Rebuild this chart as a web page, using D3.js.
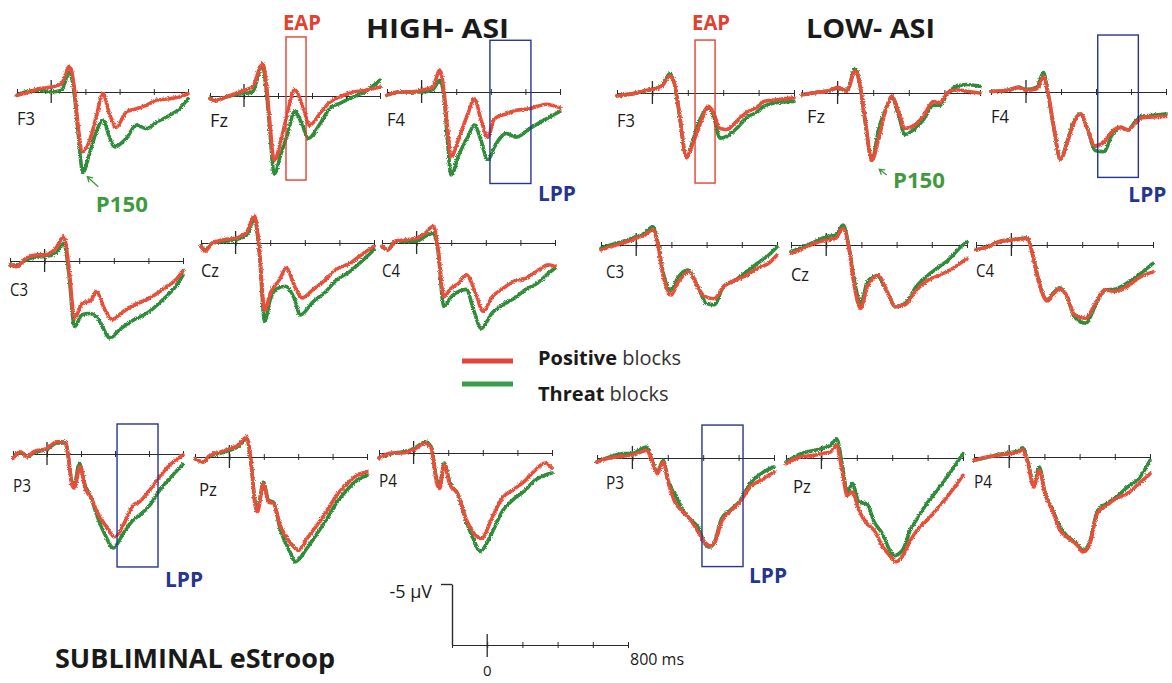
<!DOCTYPE html>
<html>
<head>
<meta charset="utf-8">
<script src="https://cdn.jsdelivr.net/npm/d3@7"></script>
<style>
  html, body { margin: 0; padding: 0; background: #fff; }
  svg { display: block; }
  text { font-family: "Open Sans", "Noto Sans", sans-serif; }
</style>
</head>
<body>
<svg id="chart" width="1172" height="683"></svg>
<script>
// ---------- ERP waveforms: [latency ms, amplitude µV] (negative plotted up) ----------
const X_TICKS = [-200, 0, 200, 400, 600, 800];

// HIGH-ASI, positive (red) and threat (green) blocks
const hiF3Pos = [[-200,0.27],[-130,0],[-70,-0.27],[0,-0.4],[60,-0.68],[107,-2.1],[137,-0.14],[156,2.6],[185,4.9],[224,4.0],[263,2.05],[302,0.14],[341,1.8],[380,2.9],[439,1.64],[498,1.37],[556,1.1],[615,0.68],[693,0.55],[751,0.4],[800,0.14]];
const hiF3Thr = [[-200,0.27],[-130,-0.08],[-70,-0.14],[0,0],[60,-0.14],[107,-1.64],[137,0.4],[156,3.1],[185,6.6],[224,5.05],[263,3.3],[302,2.3],[341,3.7],[371,4.5],[439,3.8],[498,2.7],[556,3.0],[615,2.5],[693,1.9],[751,1.37],[800,0.55]];
const hiFzPos = [[-200,0.2],[-168,0.4],[-109,0.08],[-50,-0.2],[0,-0.46],[50,-0.74],[109,-2.65],[129,-1.3],[149,1.7],[178,5.3],[218,3.6],[257,1.3],[297,-0.5],[347,0.9],[386,2.4],[446,1.45],[505,0.5],[564,0.08],[644,-0.33],[723,-0.5],[800,-0.74]];
const hiFzThr = [[-200,0.2],[-168,0.4],[-109,0.1],[-50,-0.1],[0,-0.2],[50,-0.33],[109,-2.5],[129,-0.8],[149,2.3],[178,6.4],[218,4.7],[257,3.1],[297,1.3],[347,2.5],[376,3.5],[446,2.3],[505,1.0],[564,0.6],[644,0.08],[723,-0.46],[800,-1.3]];
const hiF4Pos = [[-200,0.27],[-130,0],[-72,0],[0,-0.14],[64,-0.4],[106,-1.8],[131,0.14],[151,3.1],[170,5.3],[218,3.7],[267,1.8],[305,0.55],[344,2.3],[383,3.7],[421,2.2],[489,1.8],[547,1.5],[624,1.37],[721,1.0],[800,1.3]];
const hiF4Thr = [[-200,0.27],[-130,0],[-72,0],[0,0],[64,-0.2],[106,-0.95],[131,0.6],[151,4.2],[170,6.8],[218,5.05],[267,3.7],[305,2.7],[344,4.0],[383,5.6],[421,4.5],[489,3.4],[547,3.7],[624,3.0],[721,2.2],[800,1.6]];
const hiC3Pos = [[-200,0.33],[-162,0.46],[-108,-0.22],[-43,-0.5],[0,-0.5],[65,-1.04],[112,-2.0],[140,0.46],[173,4.7],[216,3.5],[270,3.2],[298,2.5],[346,3.9],[389,4.8],[454,4.15],[519,3.6],[605,3.06],[692,2.24],[757,1.56],[800,0.8]];
const hiC3Thr = [[-200,0.33],[-162,0.33],[-108,-0.08],[-43,-0.36],[0,-0.36],[65,-0.63],[112,-1.45],[140,1.0],[173,5.4],[216,4.4],[259,4.3],[303,4.6],[378,6.3],[432,5.65],[497,4.97],[605,4.15],[692,3.06],[757,2.1],[800,1.15]];
const hiCzPos = [[-200,0.27],[-177,0.68],[-134,0],[-69,-0.27],[0,-0.4],[60,-0.8],[110,-2.2],[136,0.27],[168,5.5],[201,4.1],[254,3.0],[293,2.05],[341,3.55],[384,4.5],[449,3.8],[513,3.1],[578,2.2],[664,1.64],[729,0.96],[800,0.27]];
const hiCzThr = [[-200,0.27],[-177,0.55],[-134,0],[-69,-0.14],[0,-0.27],[60,-0.6],[110,-1.9],[136,0.55],[168,6.4],[201,4.6],[233,3.8],[287,3.55],[341,4.6],[373,5.9],[449,4.8],[513,4.1],[578,3.1],[664,2.3],[729,1.5],[800,0.55]];
const hiC4Pos = [[-200,0.27],[-166,0.55],[-123,-0.14],[-58,-0.27],[0,-0.4],[50,-0.8],[97,-1.37],[125,0.55],[157,4.4],[200,3.7],[244,3.3],[287,2.6],[341,4.1],[384,5.6],[438,4.4],[502,3.7],[567,3.1],[632,2.9],[697,2.3],[761,1.78],[800,1.9]];
const hiC4Thr = [[-200,0.27],[-166,0.55],[-123,-0.14],[-58,-0.14],[0,-0.14],[50,-0.55],[97,-0.8],[125,0.8],[157,5.2],[200,4.4],[244,3.96],[287,3.8],[330,5.5],[373,7.0],[438,5.7],[502,5.05],[567,4.5],[632,3.8],[697,3.3],[761,2.5],[800,2.05]];
const hiP3Pos = [[-200,0.36],[-156,-0.19],[-117,0.22],[-78,-0.19],[0,-0.46],[59,-1.0],[107,-1.0],[127,0.36],[146,2.5],[160,2.8],[195,1.04],[224,2.8],[254,3.4],[293,4.7],[341,5.8],[400,6.8],[449,5.8],[507,4.2],[546,3.9],[605,2.95],[663,1.86],[722,0.9],[800,0.08]];
const hiP3Thr = [[-200,0.36],[-156,-0.1],[-117,0.22],[-78,-0.1],[0,-0.4],[59,-0.9],[107,-0.9],[127,0.4],[146,2.3],[160,2.5],[190,0.77],[224,2.55],[254,3.4],[293,5.0],[341,6.6],[390,7.7],[449,6.5],[507,5.4],[546,5.0],[605,4.2],[663,2.95],[722,2.0],[800,0.85]];
const hiPzPos = [[-200,0.14],[-151,0.4],[-113,-0.14],[-54,-0.4],[0,-0.68],[52,-0.96],[101,-1.64],[124,0.14],[150,4.0],[163,4.5],[198,2.2],[227,3.7],[256,3.8],[295,5.6],[353,7.0],[402,7.65],[450,6.7],[509,5.6],[567,4.4],[625,3.1],[684,2.2],[742,1.5],[800,1.2]];
const hiPzThr = [[-200,0.14],[-151,0.4],[-113,-0.1],[-54,-0.3],[0,-0.55],[52,-0.85],[101,-1.5],[124,0.3],[150,3.7],[163,4.3],[198,2.05],[227,3.55],[256,3.7],[295,5.9],[353,7.8],[382,8.6],[450,7.5],[509,6.3],[567,5.05],[625,3.7],[684,2.7],[742,1.9],[800,1.5]];
const hiP4Pos = [[-200,0.4],[-125,0],[-61,0],[0,-0.27],[69,-0.8],[102,-0.4],[134,2.5],[151,2.9],[177,0.96],[210,2.6],[253,3.3],[307,5.5],[350,6.6],[393,7.0],[448,5.5],[512,3.7],[577,3.0],[642,2.3],[696,1.5],[761,0.82],[800,1.23]];
const hiP4Thr = [[-200,0.4],[-125,0.05],[-61,-0.1],[0,-0.35],[69,-0.9],[102,-0.5],[134,2.2],[151,2.6],[177,0.82],[210,2.46],[253,3.3],[307,5.7],[350,7.2],[383,8.06],[448,6.7],[512,4.8],[577,3.8],[642,3.1],[696,2.3],[761,1.8],[800,1.64]];

// LOW-ASI, positive (red) and threat (green) blocks
const loF3Pos = [[-200,0.22],[-107,0.05],[-32,-0.22],[0,-0.27],[53,-0.55],[100,-1.42],[128,-0.55],[147,1.1],[194,5.3],[222,4.4],[269,2.6],[316,1.1],[344,1.6],[382,2.9],[420,3.0],[476,2.3],[542,1.5],[589,1.2],[627,0.7],[702,0.55],[800,0.4]];
const loF3Thr = [[-200,0.22],[-107,0.05],[-32,-0.2],[0,-0.3],[53,-0.6],[100,-1.6],[128,-0.5],[147,1.2],[194,5.3],[222,4.2],[269,2.2],[316,1.2],[344,1.8],[382,3.7],[420,3.55],[476,2.9],[542,1.9],[589,1.6],[627,1.1],[702,0.8],[800,0.7]];
const loFzPos = [[-200,0.14],[-116,-0.05],[-41,-0.2],[0,-0.46],[52,-0.14],[99,-1.78],[127,-0.55],[155,2.2],[193,5.5],[230,3.8],[267,1.6],[305,0.27],[342,1.5],[379,2.9],[435,2.6],[482,1.9],[538,0.7],[576,0.8],[613,0],[669,-0.27],[725,-0.14],[800,0]];
const loFzThr = [[-200,0.14],[-116,-0.05],[-41,-0.2],[0,-0.4],[52,-0.2],[99,-2.0],[127,-0.5],[155,2.4],[193,5.5],[230,3.0],[267,1.4],[305,0.4],[342,1.8],[379,3.4],[435,2.9],[482,2.2],[538,1.0],[576,1.0],[613,0.14],[669,-0.55],[725,-0.7],[800,-0.55]];
const loF4Pos = [[-200,-0.05],[-104,-0.14],[-42,-0.36],[0,-0.14],[62,-0.27],[100,-1.23],[125,0],[156,2.6],[197,5.5],[239,4.0],[281,2.3],[312,1.8],[353,3.1],[395,4.4],[447,4.1],[488,3.3],[540,2.9],[582,3.1],[623,2.6],[665,2.1],[727,2.05],[800,2.0]];
const loF4Thr = [[-200,-0.05],[-104,-0.14],[-42,-0.4],[0,-0.2],[62,-0.4],[100,-1.6],[125,0.1],[156,2.7],[197,5.5],[239,3.9],[281,2.2],[312,1.8],[353,3.1],[395,4.8],[447,4.9],[488,3.6],[540,2.9],[582,3.1],[623,2.45],[665,1.97],[727,1.9],[800,1.8]];
const loC3Pos = [[-200,0.4],[-145,0.14],[-81,-0.14],[0,-0.55],[47,-0.8],[94,-1.23],[122,-0.14],[154,2.6],[197,4.1],[240,3.0],[304,2.2],[347,3.4],[389,4.2],[443,4.4],[496,3.4],[560,2.9],[625,2.5],[689,1.9],[753,1.5],[800,0.82]];
const loC3Thr = [[-200,0.27],[-145,0],[-81,-0.27],[0,-0.68],[47,-0.96],[94,-1.5],[122,-0.27],[154,2.3],[197,3.7],[240,2.6],[293,2.05],[347,3.3],[400,4.8],[443,4.9],[496,3.4],[560,2.9],[625,2.2],[689,1.5],[753,0.82],[800,0.14]];
const loCzPos = [[-200,0.68],[-128,0.27],[-64,-0.14],[0,-0.4],[53,-0.55],[96,-1.37],[124,-0.14],[160,3.4],[196,5.2],[235,3.4],[299,2.5],[341,3.7],[395,5.05],[448,4.9],[512,3.7],[576,2.9],[640,2.5],[704,2.05],[800,1.1]];
const loCzThr = [[-200,0.55],[-128,0.14],[-64,-0.27],[0,-0.68],[53,-0.8],[96,-1.64],[124,-0.27],[160,2.9],[196,4.8],[235,3.0],[288,2.5],[341,3.7],[395,5.05],[448,4.8],[512,3.4],[576,2.5],[640,1.8],[704,1.1],[747,0.4],[800,-0.27]];
const loC4Pos = [[-200,0.4],[-134,0.14],[-70,-0.27],[0,-0.4],[47,-0.46],[90,-0.55],[122,0.96],[154,3.0],[203,4.6],[239,4.0],[271,3.6],[314,4.2],[356,5.7],[420,6.0],[474,4.8],[527,3.7],[591,3.8],[655,3.4],[719,2.7],[800,2.2]];
const loC4Thr = [[-200,0.4],[-134,0.14],[-70,-0.27],[0,-0.45],[47,-0.5],[90,-0.6],[122,0.9],[154,2.9],[203,4.5],[239,3.9],[271,3.5],[314,4.2],[356,5.9],[420,6.4],[474,5.0],[527,3.7],[591,3.6],[655,3.1],[719,2.46],[800,1.5]];
const loP3Pos = [[-200,0.33],[-128,0],[-53,-0.16],[0,-0.22],[51,-0.5],[83,-0.63],[108,0.19],[140,1.28],[174,0.33],[202,1.97],[240,3.6],[277,4.3],[325,5.0],[372,6.07],[409,6.9],[438,7.2],[466,6.9],[504,5.2],[551,4.4],[608,3.6],[664,2.4],[740,1.7],[800,1.15]];
const loP3Thr = [[-200,0.33],[-128,-0.08],[-53,-0.36],[0,-0.36],[51,-0.77],[83,-0.9],[108,0.05],[140,1.15],[174,0.19],[202,1.84],[240,2.9],[277,4.1],[325,5.0],[372,5.7],[409,7.0],[438,7.3],[466,6.8],[504,4.97],[551,4.3],[608,3.5],[664,2.1],[740,1.15],[800,0.74]];
const loPzPos = [[-200,0.46],[-116,-0.08],[-41,-0.22],[0,-0.36],[53,-0.5],[86,-1.04],[118,1.15],[146,3.06],[175,2.8],[212,4.3],[259,5.4],[297,5.9],[344,7.2],[391,8.1],[419,8.5],[456,8.1],[503,6.75],[541,5.9],[597,5.1],[654,4.15],[710,3.2],[800,1.42]];
const loPzThr = [[-200,0.33],[-116,-0.36],[-41,-0.63],[0,-0.77],[53,-1.04],[86,-1.58],[118,0.6],[146,2.8],[175,2.1],[212,3.6],[259,3.8],[297,5.2],[344,6.2],[391,7.7],[409,8.0],[456,7.6],[503,5.9],[541,4.97],[597,3.7],[654,2.65],[710,1.56],[800,-0.36]];
const loP4Pos = [[-200,0.27],[-128,0],[-64,-0.14],[0,-0.27],[53,-0.4],[75,-0.6],[107,0.55],[139,2.46],[171,1.1],[203,3.0],[245,4.4],[288,6.0],[331,6.6],[384,7.2],[420,7.8],[459,7.1],[501,4.6],[555,3.96],[608,3.4],[672,3.0],[736,2.2],[800,1.37]];
const loP4Thr = [[-200,0.27],[-128,0.05],[-64,-0.2],[0,-0.35],[53,-0.5],[75,-0.75],[107,0.4],[139,2.3],[171,0.82],[203,2.9],[245,4.25],[288,5.7],[331,6.5],[384,7.1],[420,7.65],[459,6.9],[501,4.4],[555,3.8],[608,3.3],[672,2.46],[736,1.78],[800,0.27]];

// Electrode sites per group
const panels = [
  { id: "hi-F3", site: "F3", pos: hiF3Pos, thr: hiF3Thr },
  { id: "hi-Fz", site: "Fz", pos: hiFzPos, thr: hiFzThr },
  { id: "hi-F4", site: "F4", pos: hiF4Pos, thr: hiF4Thr },
  { id: "hi-C3", site: "C3", pos: hiC3Pos, thr: hiC3Thr },
  { id: "hi-Cz", site: "Cz", pos: hiCzPos, thr: hiCzThr },
  { id: "hi-C4", site: "C4", pos: hiC4Pos, thr: hiC4Thr },
  { id: "hi-P3", site: "P3", pos: hiP3Pos, thr: hiP3Thr },
  { id: "hi-Pz", site: "Pz", pos: hiPzPos, thr: hiPzThr },
  { id: "hi-P4", site: "P4", pos: hiP4Pos, thr: hiP4Thr },
  { id: "lo-F3", site: "F3", pos: loF3Pos, thr: loF3Thr },
  { id: "lo-Fz", site: "Fz", pos: loFzPos, thr: loFzThr },
  { id: "lo-F4", site: "F4", pos: loF4Pos, thr: loF4Thr },
  { id: "lo-C3", site: "C3", pos: loC3Pos, thr: loC3Thr },
  { id: "lo-Cz", site: "Cz", pos: loCzPos, thr: loCzThr },
  { id: "lo-C4", site: "C4", pos: loC4Pos, thr: loC4Thr },
  { id: "lo-P3", site: "P3", pos: loP3Pos, thr: loP3Thr },
  { id: "lo-Pz", site: "Pz", pos: loPzPos, thr: loPzThr },
  { id: "lo-P4", site: "P4", pos: loP4Pos, thr: loP4Thr }
];

// Component windows [ms from, ms to], [µV from, µV to]
const eapWindows = [
  { panel: "hi-Fz", ms: [247, 365], uv: [-4.84, 6.89] },
  { panel: "lo-F3", ms: [241, 354], uv: [-4.34, 7.38] }
];
const lppWindows = [
  { panel: "hi-F4", ms: [395, 632], uv: [-4.24, 7.5] },
  { panel: "lo-F4", ms: [410, 642], uv: [-4.67, 7.0] },
  { panel: "hi-P3", ms: [412, 653], uv: [-2.46, 9.26] },
  { panel: "lo-P3", ms: [393, 625], uv: [-2.7, 8.9] }
];

// ---------- layout (pixels) ----------
const W = 1172, H = 683;
const UV_PX = 12.2;               // pixels per µV
const frames = {
  "hi-F3": { x0: 17,  x1: 188,  y: 92,  ldx: 0,  ldy: 33 },
  "hi-Fz": { x0: 210, x1: 380,  y: 96,  ldx: 0,  ldy: 31 },
  "hi-F4": { x0: 387, x1: 560,  y: 92,  ldx: 0,  ldy: 34 },
  "hi-C3": { x0: 10,  x1: 183,  y: 261, ldx: 0,  ldy: 35 },
  "hi-Cz": { x0: 201, x1: 374,  y: 243, ldx: 0,  ldy: 34 },
  "hi-C4": { x0: 382, x1: 555,  y: 243, ldx: 0,  ldy: 34 },
  "hi-P3": { x0: 13,  x1: 183,  y: 454, ldx: 0,  ldy: 38 },
  "hi-Pz": { x0: 195, x1: 367,  y: 457, ldx: 4,  ldy: 39 },
  "hi-P4": { x0: 379, x1: 552,  y: 453, ldx: 0,  ldy: 34 },
  "lo-F3": { x0: 617, x1: 794,  y: 93,  ldx: 0,  ldy: 34 },
  "lo-Fz": { x0: 802, x1: 980,  y: 93,  ldx: 5,  ldy: 30 },
  "lo-F4": { x0: 991, x1: 1166, y: 92,  ldx: 0,  ldy: 31 },
  "lo-C3": { x0: 601, x1: 777,  y: 245, ldx: 5,  ldy: 33 },
  "lo-Cz": { x0: 791, x1: 967,  y: 245, ldx: 0,  ldy: 36 },
  "lo-C4": { x0: 976, x1: 1153, y: 245, ldx: 0,  ldy: 32 },
  "lo-P3": { x0: 597, x1: 774,  y: 458, ldx: 9,  ldy: 31 },
  "lo-Pz": { x0: 786, x1: 963,  y: 458, ldx: 7,  ldy: 35 },
  "lo-P4": { x0: 974, x1: 1150, y: 457, ldx: 0,  ldy: 31 }
};

const COLORS = {
  pos: "#e8503a", thr: "#2f8c3b",
  legendPos: "#e0453b", legendThr: "#3d9c4b",
  eap: "#e2412f", lpp: "#26358e", p150: "#3f9a3f",
  axis: "#2a2a2a", text: "#1a1a1a"
};

const svg = d3.select("#chart");
svg.append("rect").attr("width", W).attr("height", H).attr("fill", "#fff");

// fine jitter so the averaged traces read like recorded signals
const defs = svg.append("defs");
const flt = defs.append("filter").attr("id", "rough")
  .attr("x", "-3%").attr("y", "-6%").attr("width", "106%").attr("height", "112%");
flt.append("feTurbulence").attr("type", "fractalNoise").attr("baseFrequency", 1.3)
  .attr("numOctaves", 2).attr("seed", 7).attr("result", "n");
flt.append("feDisplacementMap").attr("in", "SourceGraphic").attr("in2", "n")
  .attr("scale", 3.2).attr("xChannelSelector", "R").attr("yChannelSelector", "G");

const scales = {};

function drawTimeAxis(g, x, y0, bigTickUp, bigTickDown) {
  // minor ruler marks
  g.append("g").attr("transform", `translate(0,${y0})`)
    .call(d3.axisBottom(x).tickValues(d3.range(-200, 801, 20)).tickSize(1).tickSizeOuter(0).tickFormat(""))
    .call(a => a.select(".domain").remove())
    .call(a => a.selectAll("line").attr("stroke", COLORS.axis).attr("stroke-width", 0.6));
  // main ticks crossing the baseline
  g.append("g").attr("transform", `translate(0,${y0})`)
    .call(d3.axisBottom(x).tickValues(X_TICKS).tickSize(3).tickSizeOuter(0).tickFormat(""))
    .call(a => a.select(".domain").attr("stroke", COLORS.axis).attr("stroke-width", 1.1))
    .call(a => a.selectAll("line").attr("stroke", COLORS.axis).attr("stroke-width", 1));
  g.append("g").attr("transform", `translate(0,${y0})`)
    .call(d3.axisTop(x).tickValues(X_TICKS).tickSize(3).tickSizeOuter(0).tickFormat(""))
    .call(a => a.select(".domain").remove())
    .call(a => a.selectAll("line").attr("stroke", COLORS.axis).attr("stroke-width", 1));
  // stimulus onset marker
  g.append("line")
    .attr("x1", x(0)).attr("x2", x(0))
    .attr("y1", y0 - bigTickUp).attr("y2", y0 + bigTickDown)
    .attr("stroke", COLORS.axis).attr("stroke-width", 1.3);
}

const lineGen = (x, y) => d3.line().x(d => x(d[0])).y(d => y(d[1])).curve(d3.curveMonotoneX);

panels.forEach(p => {
  const f = frames[p.id];
  const x = d3.scaleLinear().domain([-200, 800]).range([f.x0, f.x1]);
  const y = d3.scaleLinear().domain([-5, 5]).range([f.y - 5 * UV_PX, f.y + 5 * UV_PX]);
  scales[p.id] = { x, y };
  const g = svg.append("g").attr("class", "panel");
  drawTimeAxis(g, x, f.y, 12, 11);

  [["thr", COLORS.thr], ["pos", COLORS.pos]].forEach(([k, c]) => {
    g.append("path")
      .datum(p[k])
      .attr("d", lineGen(x, y))
      .attr("fill", "none")
      .attr("stroke", c)
      .attr("stroke-width", 3.6)
      .attr("stroke-linejoin", "round")
      .attr("stroke-linecap", "round")
      .attr("filter", "url(#rough)");
  });

  g.append("text")
    .attr("x", f.x0 + f.ldx).attr("y", f.y + f.ldy)
    .attr("font-size", 18).attr("fill", COLORS.text)
    .attr("textLength", 18).attr("lengthAdjust", "spacingAndGlyphs")
    .text(p.site);
});

// ---------- component windows ----------
function windowRect(w, color) {
  const { x, y } = scales[w.panel];
  svg.append("rect")
    .attr("x", x(w.ms[0])).attr("y", y(w.uv[0]))
    .attr("width", x(w.ms[1]) - x(w.ms[0]))
    .attr("height", y(w.uv[1]) - y(w.uv[0]))
    .attr("fill", "none").attr("stroke", color).attr("stroke-width", 1.4);
  return { x, y };
}
eapWindows.forEach(w => {
  const { x, y } = windowRect(w, COLORS.eap);
  svg.append("text")
    .attr("x", x(w.ms[0]) - 3).attr("y", 30)
    .attr("font-size", 22).attr("font-weight", 700).attr("fill", COLORS.eap)
    .attr("textLength", 38).attr("lengthAdjust", "spacingAndGlyphs")
    .text("EAP");
});
const lppLabelOffsets = { "hi-F4": [7, 17], "lo-F4": [-10, 25], "hi-P3": [7, 20], "lo-P3": [6, 16] };
lppWindows.forEach(w => {
  const { x, y } = windowRect(w, COLORS.lpp);
  const [dx, dy] = lppLabelOffsets[w.panel];
  svg.append("text")
    .attr("x", x(w.ms[1]) + dx).attr("y", y(w.uv[1]) + dy)
    .attr("font-size", 22).attr("font-weight", 700).attr("fill", COLORS.lpp)
    .attr("textLength", 38).attr("lengthAdjust", "spacingAndGlyphs")
    .text("LPP");
});

// ---------- P150 call-outs ----------
const p150Notes = [
  { panel: "hi-F3", tip: [211, 6.94], tail: [275, 7.76], label: [261, 9.84] },
  { panel: "lo-Fz", tip: [234, 6.25], tail: [276, 6.72], label: [311, 7.8] }
];
p150Notes.forEach(n => {
  const { x, y } = scales[n.panel];
  const tx = x(n.tip[0]), ty = y(n.tip[1]);
  const sx = x(n.tail[0]), sy = y(n.tail[1]);
  const ang = Math.atan2(ty - sy, tx - sx);
  const hl = 6;
  const path = d3.path();
  path.moveTo(sx, sy); path.lineTo(tx, ty);
  path.moveTo(tx - hl * Math.cos(ang - 0.55), ty - hl * Math.sin(ang - 0.55));
  path.lineTo(tx, ty);
  path.lineTo(tx - hl * Math.cos(ang + 0.55), ty - hl * Math.sin(ang + 0.55));
  svg.append("path").attr("d", path.toString())
    .attr("fill", "none").attr("stroke", COLORS.p150).attr("stroke-width", 1.3);
  svg.append("text")
    .attr("x", x(n.label[0])).attr("y", y(n.label[1]))
    .attr("font-size", 22).attr("font-weight", 700).attr("fill", COLORS.p150)
    .attr("textLength", 52).attr("lengthAdjust", "spacingAndGlyphs")
    .text("P150");
});

// ---------- titles ----------
svg.append("text").attr("x", 366).attr("y", 38)
  .attr("font-size", 26).attr("font-weight", 700).attr("fill", COLORS.text)
  .attr("textLength", 143).attr("lengthAdjust", "spacingAndGlyphs")
  .text("HIGH- ASI");
svg.append("text").attr("x", 806).attr("y", 38)
  .attr("font-size", 26).attr("font-weight", 700).attr("fill", COLORS.text)
  .attr("textLength", 129).attr("lengthAdjust", "spacingAndGlyphs")
  .text("LOW- ASI");
svg.append("text").attr("x", 55).attr("y", 668)
  .attr("font-size", 26).attr("font-weight", 700).attr("fill", COLORS.text)
  .attr("textLength", 280).attr("lengthAdjust", "spacingAndGlyphs")
  .text("SUBLIMINAL eStroop");

// ---------- legend ----------
const legendItems = [
  { key: "Positive", rest: " blocks", color: COLORS.legendPos },
  { key: "Threat", rest: " blocks", color: COLORS.legendThr }
];
const legendY = d3.scalePoint().domain(legendItems.map(d => d.key)).range([361, 384]);
const legendTextY = d3.scalePoint().domain(legendItems.map(d => d.key)).range([365, 401]);
legendItems.forEach(d => {
  svg.append("line")
    .attr("x1", 462).attr("x2", 513)
    .attr("y1", legendY(d.key)).attr("y2", legendY(d.key))
    .attr("stroke", d.color).attr("stroke-width", 5);
  const t = svg.append("text").attr("x", 538).attr("y", legendTextY(d.key))
    .attr("font-size", 20).attr("fill", COLORS.text);
  t.append("tspan").attr("font-weight", 700).text(d.key);
  t.append("tspan").attr("font-weight", 400).attr("fill", "#333").text(d.rest);
});

// ---------- calibration bar ----------
const calX = d3.scaleLinear().domain([-200, 800]).range([452, 628]);
const calY = d3.scaleLinear().domain([-5, 0]).range([645 - 5 * UV_PX, 645]);
const cal = svg.append("g");
cal.append("g").attr("transform", "translate(452,0)")
  .call(d3.axisLeft(calY).tickValues([-5]).tickSize(11).tickSizeOuter(0).tickFormat(""))
  .call(a => a.select(".domain").attr("stroke", COLORS.axis).attr("stroke-width", 1.4))
  .call(a => a.selectAll("line").attr("stroke", COLORS.axis).attr("stroke-width", 1.4));
drawTimeAxis(cal, calX, 645, 11, 12);
cal.append("text").attr("x", 432).attr("y", 598).attr("text-anchor", "end")
  .attr("font-size", 18).attr("fill", COLORS.text).text("-5 \u03bcV");
cal.append("text").attr("x", calX(0)).attr("y", 676).attr("text-anchor", "middle")
  .attr("font-size", 15).attr("fill", COLORS.text).text("0");
cal.append("text").attr("x", calX(800) + 2).attr("y", 665)
  .attr("font-size", 16).attr("fill", COLORS.text).text("800 ms");
</script>
</body>
</html>
